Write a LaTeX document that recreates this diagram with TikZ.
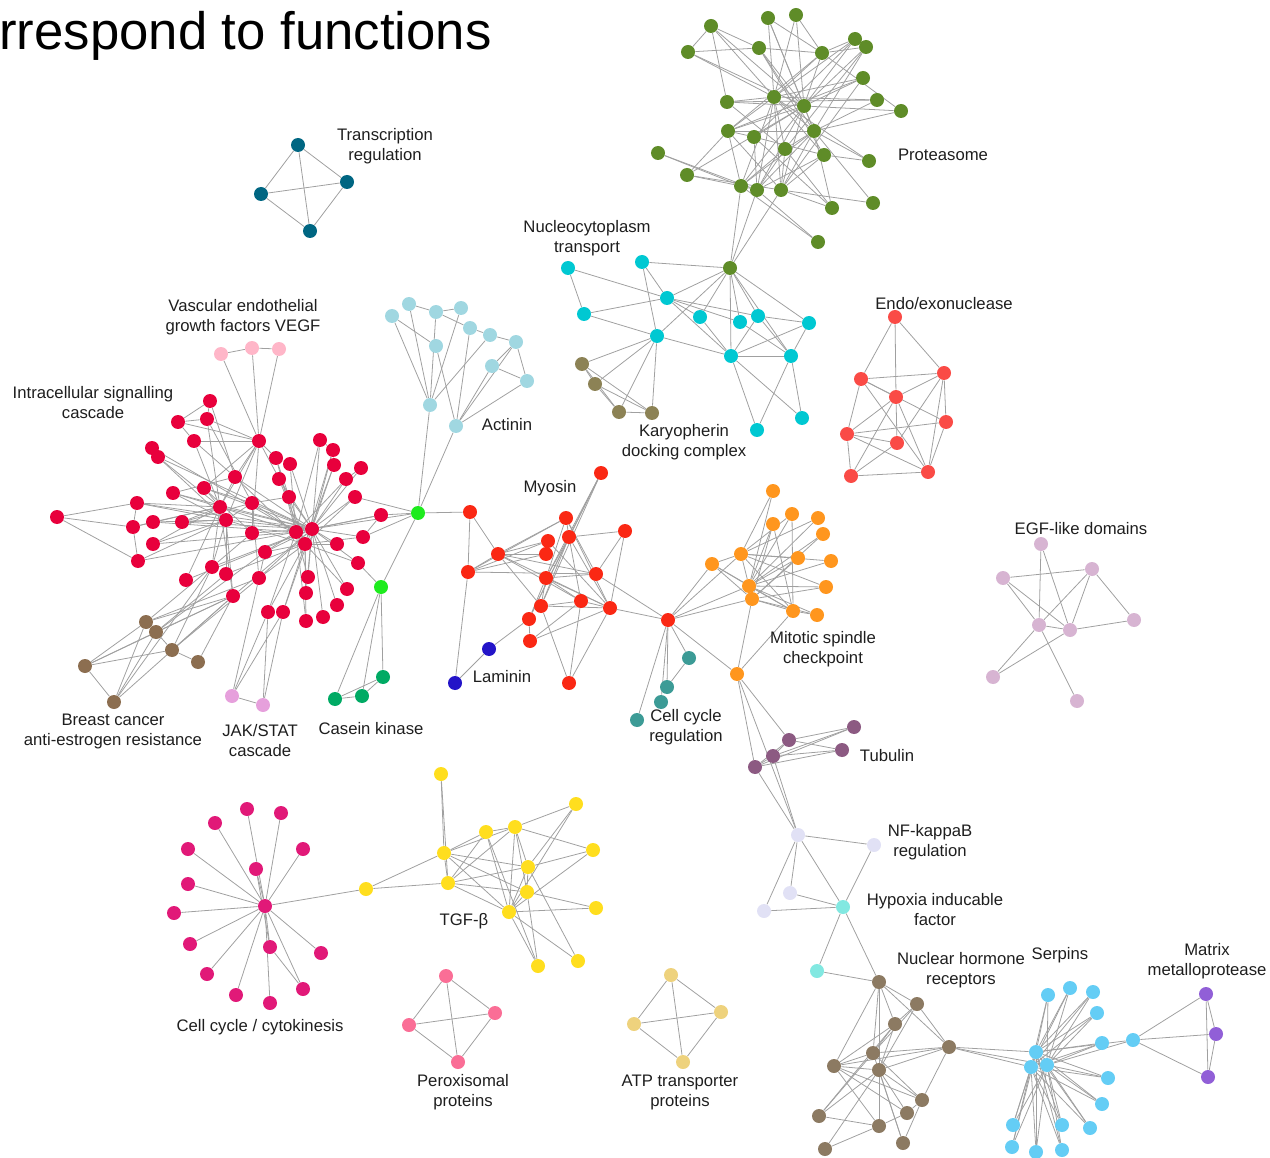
\documentclass[tikz,border=0pt]{standalone}
\usepackage{fontspec}
\setmainfont{Liberation Sans}
\usetikzlibrary{backgrounds}
% node fills, one per functional group
\definecolor{edgec}{RGB}{160,160,160}
\definecolor{labc}{RGB}{30,30,30}
\definecolor{trc}{RGB}{0,102,130}
\definecolor{prt}{RGB}{95,140,40}
\definecolor{nct}{RGB}{0,200,210}
\definecolor{kar}{RGB}{140,130,85}
\definecolor{endo}{RGB}{250,75,70}
\definecolor{egf}{RGB}{215,180,210}
\definecolor{act}{RGB}{160,215,225}
\definecolor{vegf}{RGB}{255,182,200}
\definecolor{isc}{RGB}{232,0,60}
\definecolor{lime}{RGB}{30,235,30}
\definecolor{cas}{RGB}{0,170,100}
\definecolor{jak}{RGB}{230,160,220}
\definecolor{brc}{RGB}{140,110,80}
\definecolor{myo}{RGB}{250,40,20}
\definecolor{lam}{RGB}{35,20,200}
\definecolor{mit}{RGB}{255,150,30}
\definecolor{ccr}{RGB}{60,155,150}
\definecolor{tub}{RGB}{140,90,130}
\definecolor{nfk}{RGB}{225,225,245}
\definecolor{hyp}{RGB}{130,232,225}
\definecolor{nhr}{RGB}{140,122,98}
\definecolor{srp}{RGB}{100,205,245}
\definecolor{mmp}{RGB}{145,95,215}
\definecolor{cck}{RGB}{225,25,120}
\definecolor{tgf}{RGB}{255,222,30}
\definecolor{prx}{RGB}{250,110,150}
\definecolor{atp}{RGB}{238,210,125}
\begin{document}
\begin{tikzpicture}[x=0.02cm,y=-0.02cm,
  nd/.style={circle,inner sep=0pt,minimum size=0.28cm},
  edge/.style={draw=edgec,line width=0.45pt},
  lbl/.style={font=\fontsize{9.5}{11.4}\selectfont,align=center,text=labc,inner sep=0pt}]
\useasboundingbox (0,0) rectangle (1270,1158);

\node[anchor=base west,inner sep=0pt,font=\fontsize{30}{36}\selectfont,text=black] (title) at (-1,50) {rrespond to functions};

% ---------- nodes ----------
\foreach \n/\x/\y in {t1/298/145,t2/261/194,t3/347/182,t4/310/231}
  \node[nd,fill=trc] (\n) at (\x,\y) {};
\foreach \n/\x/\y in {p1/711/26,p2/768/18,p3/796/15,p4/688/52,p5/759/48,p6/822/53,p7/855/39,p8/866/47,p9/863/78,p10/727/102,p11/774/97,p12/804/106,p13/877/100,p14/901/111,p15/728/131,p16/754/137,p17/814/131,p18/785/149,p19/658/153,p20/824/155,p21/869/161,p22/687/175,p23/741/186,p24/757/190,p25/781/190,p26/832/208,p27/873/203,p28/818/242,pg/730/268}
  \node[nd,fill=prt] (\n) at (\x,\y) {};
\foreach \n/\x/\y in {n1/568/268,n2/642/262,n3/667/298,n4/584/314,n5/700/317,n6/740/322,n7/758/316,n8/809/323,n9/657/336,n10/731/356,n11/791/356,n12/757/430,n13/802/418}
  \node[nd,fill=nct] (\n) at (\x,\y) {};
\foreach \n/\x/\y in {k1/582/364,k2/595/384,k3/619/412,k4/652/413}
  \node[nd,fill=kar] (\n) at (\x,\y) {};
\foreach \n/\x/\y in {e1/895/317,e2/861/379,e3/944/373,e4/896/397,e5/946/422,e6/847/434,e7/897/443,e8/851/476,e9/928/472}
  \node[nd,fill=endo] (\n) at (\x,\y) {};
\foreach \n/\x/\y in {g1/1041/544,g2/1003/578,g3/1092/569,g4/1039/625,g5/1070/630,g6/1134/620,g7/993/677,g8/1077/701}
  \node[nd,fill=egf] (\n) at (\x,\y) {};
\foreach \n/\x/\y in {a1/392/316,a2/409/304,a3/436/312,a4/461/308,a5/470/328,a6/490/335,a7/516/342,a8/436/346,a9/492/366,a10/527/381,a11/430/405,a12/456/426}
  \node[nd,fill=act] (\n) at (\x,\y) {};
\foreach \n/\x/\y in {v1/221/354,v2/252/348,v3/279/349}
  \node[nd,fill=vegf] (\n) at (\x,\y) {};
\foreach \n/\x/\y in {r1/210/401,r2/178/422,r3/207/419,r4/194/441,r5/259/441,r6/152/448,r7/158/457,r8/320/440,r9/333/450,r10/276/458,r11/290/464,r12/334/465,r13/361/468,r14/235/477,r15/279/479,r16/346/479,r17/173/493,r18/204/488,r19/355/497,r20/289/497,r21/252/503,r22/137/503,r23/220/507,r24/57/517,r25/381/515,r26/153/522,r27/182/522,r28/226/520,r29/133/527,r30/252/533,r31/296/532,r32/312/529,r33/363/537,r34/153/544,r35/305/544,r36/337/544,r37/265/552,r38/138/561,r39/358/563,r40/212/567,r41/226/574,r42/186/580,r43/259/578,r44/308/577,r45/347/589,r46/233/596,r47/306/593,r48/337/605,r49/268/612,r50/283/612,r51/323/617,r52/306/621}
  \node[nd,fill=isc] (\n) at (\x,\y) {};
\foreach \n/\x/\y in {c1/418/513,c2/381/587}
  \node[nd,fill=lime] (\n) at (\x,\y) {};
\foreach \n/\x/\y in {ck1/335/699,ck2/362/696,ck3/383/677}
  \node[nd,fill=cas] (\n) at (\x,\y) {};
\foreach \n/\x/\y in {j1/232/696,j2/263/705}
  \node[nd,fill=jak] (\n) at (\x,\y) {};
\foreach \n/\x/\y in {b1/146/622,b2/156/632,b3/172/650,b4/198/662,b5/85/666,b6/114/702}
  \node[nd,fill=brc] (\n) at (\x,\y) {};
\foreach \n/\x/\y in {m1/601/473,m2/470/512,m3/566/518,m4/625/531,m5/569/537,m6/548/541,m7/498/554,m8/546/554,m9/468/572,m10/596/574,m11/546/578,m12/541/606,m13/581/601,m14/610/608,m15/529/619,m16/530/641,m17/569/683,mh/668/620}
  \node[nd,fill=myo] (\n) at (\x,\y) {};
\foreach \n/\x/\y in {l1/489/649,l2/455/683}
  \node[nd,fill=lam] (\n) at (\x,\y) {};
\foreach \n/\x/\y in {o1/773/491,o2/792/514,o3/818/518,o4/773/524,o5/823/534,o6/741/554,o7/712/564,o8/798/558,o9/831/561,o10/749/586,o11/752/599,o12/826/587,o13/793/611,o14/817/615,o15/737/674}
  \node[nd,fill=mit] (\n) at (\x,\y) {};
\foreach \n/\x/\y in {q1/689/658,q2/667/687,q3/661/702,q4/637/720}
  \node[nd,fill=ccr] (\n) at (\x,\y) {};
\foreach \n/\x/\y in {u1/854/727,u2/789/740,u3/842/750,u4/773/756,u5/755/767}
  \node[nd,fill=tub] (\n) at (\x,\y) {};
\foreach \n/\x/\y in {f1/798/835,f2/874/845,f3/790/893,f4/764/911}
  \node[nd,fill=nfk] (\n) at (\x,\y) {};
\foreach \n/\x/\y in {h1/843/907,h2/817/971}
  \node[nd,fill=hyp] (\n) at (\x,\y) {};
\foreach \n/\x/\y in {w1/879/982,w2/917/1004,w3/895/1024,w4/949/1047,w5/873/1053,w6/834/1066,w7/879/1070,w8/922/1100,w9/907/1113,w10/819/1116,w11/879/1126,w12/903/1143,w13/825/1149}
  \node[nd,fill=nhr] (\n) at (\x,\y) {};
\foreach \n/\x/\y in {s1/1048/995,s2/1070/988,s3/1093/992,s4/1097/1013,s5/1102/1043,sa/1036/1052,sb/1031/1067,sc/1047/1065,s6/1133/1040,s7/1108/1078,s8/1102/1104,s9/1013/1125,s10/1062/1125,s11/1090/1128,s12/1012/1147,s13/1036/1152,s14/1062/1150}
  \node[nd,fill=srp] (\n) at (\x,\y) {};
\foreach \n/\x/\y in {x1/1206/994,x2/1216/1034,x3/1208/1077}
  \node[nd,fill=mmp] (\n) at (\x,\y) {};
\foreach \n/\x/\y in {yh/265/906,y1/247/809,y2/281/813,y3/215/823,y4/188/849,y5/303/849,y6/256/869,y7/188/884,y8/174/913,y9/190/944,y10/270/947,y11/321/953,y12/207/974,y13/303/989,y14/236/995,y15/270/1003}
  \node[nd,fill=cck] (\n) at (\x,\y) {};
\foreach \n/\x/\y in {z0/366/889,z1/441/774,z2/576/804,z3/486/832,z4/515/827,z5/444/853,z6/593/850,z7/528/867,z8/448/883,z9/527/892,z10/509/912,z11/596/908,z12/538/966,z13/578/961}
  \node[nd,fill=tgf] (\n) at (\x,\y) {};
\foreach \n/\x/\y in {d1/446/976,d2/495/1013,d3/409/1025,d4/458/1062}
  \node[nd,fill=prx] (\n) at (\x,\y) {};
\foreach \n/\x/\y in {i1/671/975,i2/721/1012,i3/634/1024,i4/683/1062}
  \node[nd,fill=atp] (\n) at (\x,\y) {};

% ---------- connectors (behind the nodes) ----------
\begin{pgfonlayer}{background}
% small complete groups
\foreach \a/\b in {t1/t2,t1/t3,t1/t4,t2/t3,t2/t4,t3/t4,
  d1/d2,d1/d3,d1/d4,d2/d3,d2/d4,d3/d4,
  i1/i2,i1/i3,i1/i4,i2/i3,i2/i4,i3/i4,
  k1/k2,k1/k3,k1/k4,k2/k3,k2/k4,k3/k4,
  x1/x2,x1/x3,x2/x3,s6/x1,s6/x2,s6/x3}
  \draw[edge] (\a) -- (\b);
% proteasome
\foreach \a/\b in {p1/p4,p1/p5,p1/p10,p1/p11,p1/p12,p4/p5,p4/p11,p4/p12,
  p2/p11,p2/p12,p2/p6,p2/p17,p3/p11,p3/p6,p3/p12,
  p5/p6,p5/p12,p5/p17,p5/p20,p6/p7,p6/p8,p6/p11,p6/p12,p6/p14,p6/p15,
  p7/p11,p7/p12,p7/p16,p8/p12,p8/p17,p8/p18,p9/p11,p9/p12,p9/p15,p9/p25,
  p10/p11,p10/p12,p10/p13,p10/p18,p11/p13,p11/p15,p11/p17,p11/p18,p11/p20,
  p11/p21,p11/p23,p11/p24,p11/p25,p12/p14,p12/p15,p12/p16,p12/p17,p12/p22,
  p12/p23,p12/p24,p12/p25,p13/p17,p14/p17,p15/p17,p15/p16,p15/p22,p15/p23,
  p15/p25,p16/p20,p16/p24,p16/p26,p17/p18,p17/p21,p17/p23,p17/p24,p17/p25,
  p17/p27,p17/p26,p18/p23,p18/p24,p18/p25,p18/p26,p19/p23,p19/p24,
  p20/p21,p20/p24,p20/p25,p22/p23,p22/p25,p23/p24,p23/p28,p24/p28,
  p25/p26,p25/p27,p23/pg,p24/pg,p25/pg}
  \draw[edge] (\a) -- (\b);
% nucleocytoplasm transport and karyopherin
\foreach \a/\b in {n1/n3,n1/n4,n2/n3,n2/pg,n2/n9,n4/n3,n4/n9,n3/pg,n3/n5,
  n3/n6,n3/n7,n3/n10,pg/n5,pg/n6,pg/n7,pg/n8,pg/n9,pg/n10,pg/n11,n9/n10,
  n9/k1,n9/k2,n9/k3,n9/k4,n5/n10,n6/n11,n7/n8,n7/n10,n7/n11,n10/n8,
  n10/n11,n10/n12,n10/n13,n11/n8,n11/n12,n11/n13}
  \draw[edge] (\a) -- (\b);
% endo/exonuclease
\foreach \a/\b in {e1/e2,e1/e4,e1/e3,e2/e3,e2/e4,e2/e5,e2/e6,e2/e9,e3/e4,
  e3/e7,e3/e9,e3/e5,e4/e6,e4/e7,e4/e8,e4/e9,e6/e5,e6/e7,e6/e8,e6/e9,
  e7/e8,e8/e9,e5/e9}
  \draw[edge] (\a) -- (\b);
% EGF-like domains
\foreach \a/\b in {g1/g4,g1/g5,g2/g3,g2/g4,g2/g5,g3/g4,g3/g5,g3/g6,g4/g5,
  g4/g7,g4/g8,g5/g6,g5/g7}
  \draw[edge] (\a) -- (\b);
% actinin and VEGF
\foreach \a/\b in {a2/a3,a3/a4,a3/a5,a5/a6,a6/a7,a7/a10,a9/a10,a1/a8,
  a6/a11,a7/a12,a9/a12,a10/a12,a1/a11,a2/a11,a3/a11,a8/a12,a5/a12,
  a4/a11,a7/a9,a11/c1,a12/c1,v1/v2,v2/v3,v1/r5,v2/r5,v3/r5}
  \draw[edge] (\a) -- (\b);
% intracellular signalling cascade
\foreach \a/\b in {r24/r22,r24/r29,r24/r38,r22/r29,r22/r23,r22/r28,r22/r32,
  r6/r7,r7/r23,r7/r28,r7/r32,r6/r31,r2/r3,r2/r4,r2/r5,r3/r5,r1/r3,r1/r14,
  r3/r23,r4/r14,r4/r23,r4/r5,r3/r21,r5/r14,r5/r18,r5/r20,r5/r23,r5/r28,
  r5/r30,r5/r10,r17/r14,r17/r23,r17/r28,r17/r32,r18/r23,r18/r21,r18/r30,
  r18/r32,r26/r23,r26/r28,r26/r31,r27/r23,r27/r28,r27/r32,r27/r21,
  r29/r23,r29/r26,r34/r23,r34/r28,r34/r31,r38/r28,r38/r32,r38/r29,
  r8/r32,r8/r31,r9/r32,r9/r35,r12/r35,r12/r32,r13/r16,r13/r32,r16/r32,
  r16/r31,r19/r32,r19/r35,r25/r32,r25/r31,r25/r33,r33/r32,r33/r35,
  r36/r32,r36/r35,r39/r35,r39/r32,r11/r32,r11/r31,r10/r35,r10/r31,
  r15/r32,r15/r35,r20/r32,r20/r31,r14/r32,r14/r35,r21/r32,r21/r31,
  r23/r32,r23/r31,r28/r32,r28/r35,r30/r32,r37/r32,r37/r31,r37/r35,
  r40/r23,r40/r28,r40/r32,r41/r28,r41/r35,r42/r23,r42/r32,r43/r32,
  r43/r35,r43/r21,r44/r32,r44/r31,r45/r32,r45/r35,r46/r23,r46/r32,
  r46/r28,r47/r32,r47/r35,r48/r32,r49/r35,r49/r31,r50/r32,r50/r35,
  r51/r32,r52/r35,r52/r31,r30/r40,r30/r21,r37/r43,r21/r28,r10/r11,
  r8/r9,r12/r9,r14/r23,r20/r21,r1/r2}
  \draw[edge] (\a) -- (\b);
% green connectors, casein kinase, JAK/STAT, breast cancer
\foreach \a/\b in {c1/r25,c1/r32,c1/r33,c1/r19,c1/m2,c1/c2,c2/r39,
  c2/ck1,c2/ck2,c2/ck3,ck1/ck2,ck2/ck3,ck1/ck3,
  j1/j2,j1/r49,j1/r50,j2/r49,j2/r50,j1/r43,
  b1/b5,b2/b5,b3/b5,b5/b6,b1/b6,b2/b6,b2/b3,b3/b4,b1/r46,b1/r40,
  b2/r46,b2/r41,b3/r46,b3/r40,b4/r46,b5/r46,b6/r46,b1/r43,b3/r43,
  b2/r37,b6/r40}
  \draw[edge] (\a) -- (\b);
% myosin and laminin
\foreach \a/\b in {m2/m7,m2/m9,m7/m9,m9/l2,m9/m3,m9/m6,m9/m8,m9/m10,
  m7/m3,m7/m6,m7/m8,m7/m10,m7/m12,m7/m14,m7/m13,m1/m5,m1/m11,m1/m12,
  m1/m15,m3/m5,m3/m14,m3/m10,m3/m11,m4/m5,m4/m14,m4/m10,m5/m11,m5/m14,
  m5/m12,m5/m13,m5/m15,m6/m8,m6/m14,m11/m13,m11/m14,m11/m12,m11/m15,
  m11/m10,m12/m13,m12/m14,m12/m17,m13/m14,m13/m17,m14/m17,m15/m16,
  l1/m15,l1/l2,m16/m14,m16/m13,m10/mh,m14/mh}
  \draw[edge] (\a) -- (\b);
% mitotic spindle checkpoint, cell cycle regulation
\foreach \a/\b in {mh/o7,mh/o6,mh/o10,mh/o11,mh/o15,mh/q1,mh/q2,mh/q3,mh/q4,
  q1/q2,o15/o11,o15/o13,o1/o6,o1/o10,o2/o6,o2/o10,o3/o10,o3/o6,o5/o10,
  o5/o11,o4/o11,o4/o10,o6/o7,o6/o8,o6/o9,o6/o10,o6/o12,o6/o13,o7/o10,
  o7/o13,o8/o10,o8/o11,o9/o10,o10/o12,o10/o13,o10/o14,o11/o13,o11/o14,
  o12/o11,o13/o14,o4/o13,o2/o13,o7/o11}
  \draw[edge] (\a) -- (\b);
% tubulin, NF-kappaB, hypoxia
\foreach \a/\b in {u1/u2,u1/u4,u1/u5,u2/u3,u2/u4,u2/u5,u3/u4,u3/u5,u4/u5,
  o15/u5,o15/u2,o15/f1,u5/f1,u4/f1,f1/f2,f1/f3,f1/f4,f1/h1,f2/h1,f3/h1,
  f4/h1,h1/h2,h1/w1,h2/w1}
  \draw[edge] (\a) -- (\b);
% nuclear hormone receptors
\foreach \a/\b in {w1/w2,w1/w3,w1/w5,w1/w7,w1/w6,w1/w4,w2/w3,w2/w4,w2/w5,
  w2/w7,w3/w5,w3/w7,w3/w6,w3/w10,w4/w5,w4/w6,w4/w7,w4/w8,w5/w6,w5/w8,
  w5/w10,w5/w12,w6/w7,w6/w9,w6/w11,w6/w8,w7/w9,w7/w11,w7/w12,w7/w8,
  w7/w10,w7/w13,w8/w9,w8/w12,w10/w11,w11/w13,w11/w9,
  w4/sa,w4/sb,w4/sc}
  \draw[edge] (\a) -- (\b);
% serpins
\foreach \h in {sa,sb,sc}
  \foreach \s in {s1,s2,s3,s4,s5,s7,s8,s9,s10,s11,s12,s13,s14}
    \draw[edge] (\h) -- (\s);
\foreach \a/\b in {sa/sb,sa/sc,sb/sc,s6/sa,s6/sc}
  \draw[edge] (\a) -- (\b);
% cell cycle / cytokinesis
\foreach \s in {y1,y2,y3,y4,y5,y6,y7,y8,y9,y10,y11,y12,y13,y14,y15}
  \draw[edge] (yh) -- (\s);
\foreach \a/\b in {y10/y13,y6/y10,yh/z0}
  \draw[edge] (\a) -- (\b);
% TGF-beta
\foreach \a/\b in {z0/z5,z0/z8,z1/z5,z1/z8,z5/z3,z5/z4,z5/z7,z5/z9,z5/z10,
  z5/z8,z8/z3,z8/z4,z8/z7,z8/z9,z8/z10,z3/z4,z3/z10,z3/z12,z4/z2,z4/z6,
  z4/z7,z4/z9,z4/z10,z2/z7,z2/z10,z6/z7,z6/z10,z7/z9,z7/z10,z9/z10,
  z9/z11,z10/z11,z10/z12,z10/z13,z9/z12,z7/z13}
  \draw[edge] (\a) -- (\b);
\end{pgfonlayer}

% ---------- labels ----------
\node[lbl] (L1) at (385,146) {Transcription\\regulation};
\node[lbl] (L2) at (243,317) {Vascular endothelial\\growth factors VEGF};
\node[lbl] (L3) at (93,403) {Intracellular signalling\\cascade};
\node[lbl] (L4) at (507,425) {Actinin};
\node[lbl] (L5) at (587,238) {Nucleocytoplasm\\transport};
\node[lbl] (L6) at (684,442) {Karyopherin\\docking complex};
\node[lbl] (L7) at (943,155) {Proteasome};
\node[lbl] (L8) at (944,304) {Endo/exonuclease};
\node[lbl] (L9) at (550,488) {Myosin};
\node[lbl] (L10) at (1081,529) {EGF-like domains};
\node[lbl] (L11) at (823,649) {Mitotic spindle\\checkpoint};
\node[lbl] (L12) at (502,677) {Laminin};
\node[lbl] (L13) at (686,727) {Cell cycle\\regulation};
\node[lbl] (L14) at (113,731) {Breast cancer\\anti-estrogen resistance};
\node[lbl] (L15) at (260,741) {JAK/STAT\\cascade};
\node[lbl] (L16) at (371,729) {Casein kinase};
\node[lbl] (L17) at (887,756) {Tubulin};
\node[lbl] (L18) at (930,842) {NF-kappaB\\regulation};
\node[lbl] (L19) at (935,910) {Hypoxia inducable\\factor};
\node[lbl] (L20) at (961,970) {Nuclear hormone\\receptors};
\node[lbl] (L21) at (1060,955) {Serpins};
\node[lbl] (L22) at (1207,961) {Matrix\\metalloprotease};
\node[lbl] (L23) at (464,921) {TGF-β};
\node[lbl] (L24) at (260,1027) {Cell cycle / cytokinesis};
\node[lbl] (L25) at (463,1092) {Peroxisomal\\proteins};
\node[lbl] (L26) at (680,1092) {ATP transporter\\proteins};
\end{tikzpicture}
\end{document}
